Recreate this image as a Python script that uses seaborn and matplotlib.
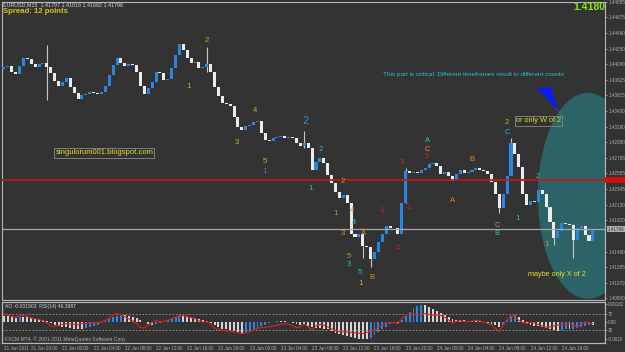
import numpy as np
import pandas as pd
import matplotlib
matplotlib.use("Agg")
import matplotlib.pyplot as plt
import seaborn as sns
from matplotlib.patches import Ellipse, Polygon, Rectangle
import matplotlib.transforms as mtransforms

# ---------------- data (EURUSD, 30-min resolution) ----------------
closes = [1.4400, 1.4401, 1.4394, 1.4390, 1.4401, 1.4412, 1.4411, 1.4404, 1.4400, 1.4404,
          1.4405, 1.4400, 1.4392, 1.4381, 1.4374, 1.4380, 1.4385, 1.4373, 1.4365, 1.4356,
          1.4362, 1.4363, 1.4366, 1.4365, 1.4364, 1.4366, 1.4375, 1.4389, 1.4403, 1.4412,
          1.4405, 1.4401, 1.4404, 1.4403, 1.4393, 1.4375, 1.4363, 1.4371, 1.4380, 1.4393,
          1.4392, 1.4382, 1.4384, 1.4399, 1.4416, 1.4431, 1.4423, 1.4412, 1.4405, 1.4407,
          1.4399, 1.4400, 1.4404, 1.4393, 1.4373, 1.4361, 1.4351, 1.4350, 1.4347, 1.4332,
          1.4318, 1.4314, 1.4320, 1.4322, 1.4325, 1.4327, 1.4310, 1.4301, 1.4299, 1.4303,
          1.4305, 1.4306, 1.4304, 1.4305, 1.4303, 1.4297, 1.4293, 1.4297, 1.4290, 1.4260,
          1.4271, 1.4276, 1.4270, 1.4253, 1.4242, 1.4230, 1.4222, 1.4226, 1.4216, 1.4173,
          1.4169, 1.4173, 1.4157, 1.4155, 1.4139, 1.4149, 1.4162, 1.4173, 1.4184, 1.4182,
          1.4181, 1.4173, 1.4215, 1.4259, 1.4256, 1.4257, 1.4256, 1.4260, 1.4263, 1.4268,
          1.4270, 1.4265, 1.4255, 1.4257, 1.4252, 1.4245, 1.4255, 1.4260, 1.4256, 1.4257,
          1.4260, 1.4263, 1.4260, 1.4259, 1.4255, 1.4244, 1.4227, 1.4208, 1.4227, 1.4252,
          1.4297, 1.4282, 1.4264, 1.4227, 1.4212, 1.4218, 1.4217, 1.4233, 1.4227, 1.4210,
          1.4189, 1.4168, 1.4177, 1.4188, 1.4187, 1.4186, 1.4165, 1.4182, 1.4184, 1.4172,
          1.4164, 1.4180]
first_open = 1.4398

spike_bars = [11, 52, 77, 92, 94, 103, 127, 130, 141, 146]
spike_highs = [1.4430, 1.4427, 1.4313, 1.4157, 1.4149, 1.4263, 1.4227, 1.4303, 1.4177, 1.4187]
spike_lows = [1.4355, 1.4393, 1.4290, 1.4140, 1.4128, 1.4215, 1.4202, 1.4282, 1.4158, 1.4140]

ao_e4 = [6, 6, 5, 4, 5, 5, 5, 4, 3, 3, 2, 1, -1, -3, -4, -5, -5, -6, -7, -7,
         -7, -6, -5, -4, -3, -1, 1, 3, 5, 6, 7, 7, 6, 5, 4, 2, 0, -2, -3, -2,
         -1, 0, 2, 4, 5, 6, 6, 6, 5, 4, 3, 2, 1, -1, -3, -5, -7, -8, -9, -10,
         -11, -12, -11, -10, -8, -6, -4, -3, -1, 0, 1, 1, 1, 0, -1, -2, -3, -3, -4, -5,
         -6, -6, -7, -8, -10, -12, -13, -14, -15, -16, -17, -18, -18, -18, -17, -14, -11, -8, -5, -2,
         -1, -1, 2, 6, 10, 14, 16, 17, 17, 15, 13, 11, 9, 7, 5, 3, 2, 2, 2, 1,
         1, 1, 1, 0, -1, -2, -3, -5, -3, 2, 6, 7, 5, 2, -1, -3, -4, -4, -5, -6,
         -7, -9, -10, -9, -8, -8, -7, -6, -5, -4, -3, -3]

rsi = [70, 68, 64, 62, 65, 66, 63, 60, 58, 56, 53, 48, 40, 38, 42, 44, 46, 45, 44, 43,
       46, 47, 47, 48, 48, 50, 54, 60, 68, 71, 67, 63, 58, 53, 46, 36, 35, 42, 48, 54,
       51, 52, 54, 58, 62, 66, 66, 63, 61, 58, 53, 50, 51, 45, 35, 31, 29, 28, 27, 25,
       23, 21, 23, 26, 30, 34, 36, 37, 38, 40, 42, 44, 46, 44, 41, 36, 38, 45, 38, 30,
       40, 44, 42, 38, 33, 29, 26, 25, 25, 24, 23, 22, 21, 24, 26, 31, 37, 42, 47, 49,
       48, 46, 58, 67, 70, 70, 68, 69, 71, 69, 67, 67, 66, 62, 55, 47, 52, 53, 51, 51,
       52, 54, 53, 49, 46, 43, 33, 27, 42, 55, 66, 62, 54, 49, 46, 49, 48, 44, 40, 37,
       38, 40, 42, 44, 45, 46, 41, 38, 44, 50, 48, 46]

date_labels = ["21 Jun 2011", "21 Jun 20:00", "22 Jun 00:00", "22 Jun 04:00", "22 Jun 08:00",
               "22 Jun 12:00", "22 Jun 16:00", "22 Jun 20:00", "23 Jun 00:00", "23 Jun 04:00",
               "23 Jun 08:00", "23 Jun 12:00", "23 Jun 16:00", "23 Jun 20:00", "24 Jun 00:00",
               "24 Jun 04:00", "24 Jun 08:00", "24 Jun 12:00", "24 Jun 16:00"]
date_bars = [0, 7, 15, 23, 31, 39, 47, 55, 63, 71, 79, 87, 95, 103, 111, 119, 127, 135, 143]

price_ticks = [1.44885, 1.44675, 1.44460, 1.44250, 1.44040, 1.43825, 1.43615, 1.43400,
               1.43190, 1.42980, 1.42765, 1.42555, 1.42345, 1.42130, 1.41920, 1.41490,
               1.41285, 1.41070, 1.40860]
red_level = 1.42465
bid_price = 1.41796

wave_text = ["2", "1", "4", "3", "2", "5", "1", "2", "1", "2", "1", "4", "4", "3", "A", "5",
             "3", "5", "1", "B", "1", "3", "4", "2", "A", "C", "5", "B", "A", "C", "B", "2",
             "C", "2", "1", "1"]
wave_color = ["ol", "ol", "ol", "ol", "bl", "ol", "bl", "te", "te", "or", "or", "or", "te", "or", "or", "or",
              "te", "te", "ol", "or", "rd", "rd", "rd", "rd", "te", "or", "rd", "or", "or", "or", "te", "ol",
              "te", "te", "te", "go"]
wave_bar = [52.1, 47.2, 64.4, 59.7, 77.4, 66.9, 66.9, 81.3, 78.5, 86.9, 84.9, 89.2, 89.7, 86.9, 92.1, 88.5,
            88.5, 91.3, 91.3, 94.4, 96.9, 102.1, 103.8, 101.0, 108.5, 108.5, 108.5, 120.0, 114.9, 126.4, 126.4, 129.0,
            129.0, 136.9, 131.8, 139.0]
wave_price = [1.44355, 1.43730, 1.43404, 1.42969, 1.43268, 1.42724, 1.42575, 1.42874, 1.42344, 1.42439,
              1.42004, 1.42058, 1.41882, 1.41732, 1.41732, 1.41420, 1.41311, 1.41202, 1.41053, 1.41134,
              1.42058, 1.42697, 1.42085, 1.41542, 1.42996, 1.42887, 1.42792, 1.42751, 1.42191, 1.41852,
              1.41732, 1.43254, 1.43118, 1.42520, 1.41936, 1.41583]

# ---------------- styling ----------------
BG = "#333333"
sns.set_theme(style="dark", rc={"axes.facecolor": BG, "figure.facecolor": BG})
plt.rcParams["font.family"] = ["Liberation Sans", "DejaVu Sans"]
palette = {"ol": "#b9b92e", "bl": "#2f8ee0", "te": "#2cc0c0", "or": "#d98a3a",
           "rd": "#d42020", "go": "#c9a227"}
BULL = "#2a86e0"
BEAR = "#ececec"
FRAME = "#b8b8b8"
TXT = "#b0b0b0"
TICK_FS = 3.3

W, H = 625, 352
fig = plt.figure(figsize=(W / 100, H / 100), dpi=100)
ax = fig.add_axes([2 / W, 1 - 300 / H, 603 / W, 298 / H])
axl = fig.add_axes([2 / W, 1 - 343 / H, 603 / W, 41 / H], sharex=ax)
axr = axl.twinx()

n = len(closes)
bars = np.arange(n)
opens = np.array([first_open] + closes[:-1])
cl = np.array(closes)
df = pd.DataFrame({"bar": bars, "open": opens, "close": cl})
df["up"] = df["close"] >= df["open"]

# candles
for up, col in [(True, BULL), (False, BEAR)]:
    d = df[df["up"] == up]
    h = (d["close"] - d["open"]).abs().clip(lower=0.00005)
    ax.bar(d["bar"], h, bottom=np.minimum(d["open"], d["close"]), width=0.78,
           color=col, edgecolor="none", zorder=3)
ax.vlines(spike_bars, spike_lows, spike_highs, color="#c8c8c8", lw=0.8, zorder=2)

# level lines
ax.axhline(red_level, color="#c01818", lw=1.3, zorder=4)
ax.axhline(bid_price, color="#a8a8a8", lw=0.9, zorder=4)

# ellipse + wedge
ax.add_patch(Ellipse((149.7, 1.4225), 25.6, 0.0280, facecolor="#2b6669",
                     edgecolor="none", zorder=1, alpha=0.95))
ax.add_patch(Polygon([(136.7, 1.43716), (140.3, 1.43730), (142.1, 1.43404)],
                     closed=True, facecolor="#0a1cf0", edgecolor="none", zorder=2))
ax.add_patch(Polygon([(141.0, 1.43480), (142.1, 1.43404), (146.4, 1.43146)],
                     closed=True, facecolor="#3aa2aa", edgecolor="none", zorder=2))

# wave labels
for t, c, b, p in zip(wave_text, wave_color, wave_bar, wave_price):
    size = 8 if c == "bl" and t == "2" and b > 70 else 5.6
    ax.text(b, p, t, color=palette[c], fontsize=size, ha="center", va="center", zorder=6)

# notes
ax.text(97.2, 1.43898, "This part is critical. Different timeframes result in different counts",
        color="#22c4c8", fontsize=4.6, ha="left", va="center", zorder=6)
box = dict(boxstyle="square,pad=0.15", facecolor="none", edgecolor="#8a8a8a", lw=0.6)
ax.text(13.2, 1.42833, "singulorum001.blogspot.com", color="#e0e030", fontsize=5.5,
        ha="left", va="center", bbox=box, zorder=6)
ax.text(131.3, 1.43268, "or only W of 2", color="#e0e030", fontsize=5.3,
        ha="left", va="center", bbox=box, zorder=6)
ax.text(134.3, 1.41175, "maybe only X of 2", color="#e0e030", fontsize=5.2,
        ha="left", va="center", zorder=6)

ax.set_xlim(-0.5, 154.1)
ax.set_ylim(1.40835, 1.44885)
ax.yaxis.tick_right()
ax.set_yticks(price_ticks)
ax.set_yticklabels([f"{v:.5f}" for v in price_ticks])
ax.tick_params(axis="y", colors=TXT, labelsize=TICK_FS, length=1.5, width=0.5, pad=0.8)
ax.tick_params(axis="x", bottom=False, labelbottom=False)
ax.grid(False)
for s in ax.spines.values():
    s.set_color(FRAME)
    s.set_linewidth(0.8)

# right-axis markers
trans = mtransforms.blended_transform_factory(ax.transAxes, ax.transData)
ax.add_patch(Rectangle((1.0, red_level - 0.00035), 0.034, 0.0007, transform=trans,
                       facecolor="#d01010", edgecolor="none", clip_on=False, zorder=7))
ax.text(1.004, bid_price, f"{bid_price:.5f}", transform=trans, fontsize=TICK_FS, color="#303030",
        ha="left", va="center", clip_on=False, zorder=8,
        bbox=dict(boxstyle="square,pad=0.12", facecolor="#b0b0b0", edgecolor="none"))

# header texts
fig.text(3 / W, 1 - 5 / H, "EURUSD,M15  1.41797 1.41818 1.41682 1.41796", color="#d8d8d8",
         fontsize=3.9, ha="left", va="center")
fig.text(3 / W, 1 - 11.5 / H, "Spread: 12 points", color="#d8c020", fontsize=5.6,
         fontweight="bold", ha="left", va="center")
fig.text(605 / W, 1 - 7.5 / H, "1.4180", color="#86e818", fontsize=7.6, fontweight="bold",
         ha="right", va="center")

# ---------------- lower panel: AO histogram + RSI ----------------
ao = np.array(ao_e4) * 1e-4
ao_col = [BULL if (i > 0 and ao[i] > ao[i - 1]) else "#d4d4d4" for i in range(n)]
axl.bar(bars, ao, width=0.5, color=ao_col, edgecolor="none", zorder=2)
axl.set_ylim(-0.00219, 0.00203)
axl.yaxis.set_ticks_position("right")
axl.yaxis.set_label_position("right")
axl.set_yticks([0.00182, 0.0, -0.00182])
axl.set_yticklabels(["0.00182", "0.00", "-0.0018"])
axl.tick_params(axis="y", colors=TXT, labelsize=TICK_FS, length=1.5, width=0.5, pad=0.8,
                left=False, labelleft=False, right=True, labelright=True)

rsi_df = pd.DataFrame({"bar": bars, "rsi": rsi})
sns.lineplot(data=rsi_df, x="bar", y="rsi", ax=axr, color="#e02020", lw=0.8, zorder=3)
axr.set_ylim(-2.5, 100)
axr.axhline(70, color="#9a9a9a", lw=0.6, ls=(0, (2, 2)))
axr.axhline(30, color="#9a9a9a", lw=0.6, ls=(0, (2, 2)))
axr.set_yticks([70, 30])
axr.set_yticklabels(["70", "30"])
axr.tick_params(axis="y", colors=TXT, labelsize=TICK_FS, length=1.5, width=0.5, pad=0.8)
axr.set_ylabel("")
axr.set_xlabel("")
axr.grid(False)
axl.grid(False)
for a in (axl, axr):
    for s in a.spines.values():
        s.set_color(FRAME)
        s.set_linewidth(0.8)

axl.set_xticks(date_bars)
axl.set_xticklabels(date_labels)
axl.tick_params(axis="x", colors=TXT, labelsize=TICK_FS, length=1.5, width=0.5, pad=1)
for lab in axl.get_xticklabels():
    lab.set_horizontalalignment("left")
axl.set_xlabel("")

axl.text(0.005, 0.88, "AO -0.001903  RSI(14) 46.3987", transform=axl.transAxes,
         color="#d0d0d0", fontsize=3.6, ha="left", va="center", zorder=6)
axl.text(0.005, 0.1, "FXCM MT4, \u00a9 2001-2011 MetaQuotes Software Corp.", transform=axl.transAxes,
         color="#b0b0b0", fontsize=3.6, ha="left", va="center", zorder=6)

fig.savefig("out.png", dpi=100, facecolor=BG)
